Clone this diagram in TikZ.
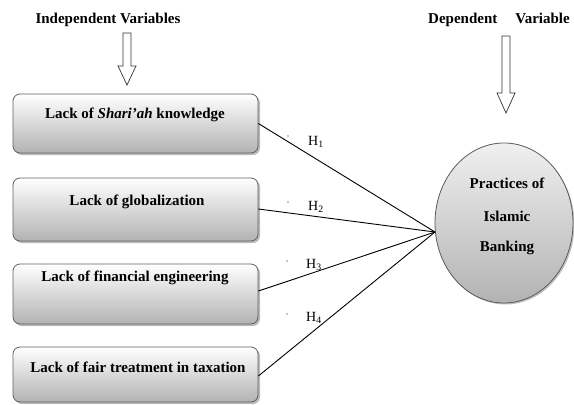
\documentclass[tikz,border=0pt]{standalone}
\usepackage{fontspec}
\setmainfont{Liberation Serif}
\usetikzlibrary{shadows,shapes.geometric}
\begin{document}
\begin{tikzpicture}[x=1pt,y=-1pt,
  varbox/.style={draw=gray!75!black, line width=0.8pt, rounded corners=7pt, minimum width=245pt,
     top color=white, bottom color=gray!60, inner sep=0pt,
     drop shadow={shadow xshift=2pt, shadow yshift=-2pt, opacity=0.45, fill=gray!80!black}},
  boxtxt/.style={font=\fontsize{15}{17}\selectfont\bfseries, inner sep=0pt},
  hdr/.style={font=\fontsize{15}{17}\selectfont\bfseries, inner sep=0pt},
  hyp/.style={font=\fontsize{14}{16}\selectfont, inner sep=0pt},
  link/.style={draw=black, line width=0.9pt},
  hollow/.style={draw=black!80, line width=0.7pt, fill=white},
  tinydot/.style={fill=black, circle, inner sep=0pt, minimum size=1.2pt}]
\useasboundingbox (0,0) rectangle (574,405);

% headers
\node[hdr] (indep) at (108,20) {Independent Variables};
\node[hdr] (dep) at (499,20) {Dependent\hspace{18pt}Variable};

% hollow arrows
\draw[hollow] (123,33) -- (131,33) -- (131,66) -- (136,66) -- (127,85) -- (118,66) -- (123,66) -- cycle;
\draw[hollow] (502,36) -- (510,36) -- (510,93) -- (515,93) -- (506,113) -- (497,93) -- (502,93) -- cycle;

% boxes
\node[varbox, minimum height=59pt] (b1) at (135.5,123.5) {};
\node[varbox, minimum height=63pt] (b2) at (135.5,209.5) {};
\node[varbox, minimum height=60pt] (b3) at (135.5,294) {};
\node[varbox, minimum height=55pt] (b4) at (135.5,374.5) {};

\node[boxtxt] (t1) at (135,115) {Lack of \textit{Shari'ah} knowledge};
\node[boxtxt] (t2) at (137,202) {Lack of globalization};
\node[boxtxt] (t3) at (135,278) {Lack of financial engineering};
\node[boxtxt] (t4) at (138,367) {Lack of fair treatment in taxation};

% dependent ellipse
\node[ellipse, draw=gray!70!black, line width=0.8pt, minimum width=138pt, minimum height=160pt,
      top color=gray!12, bottom color=gray!60, inner sep=0pt,
      drop shadow={shadow xshift=1.5pt, shadow yshift=-1.5pt, opacity=0.4, fill=gray!80!black}]
      (pib) at (504,223) {};
\node[boxtxt] (pib1) at (507,183) {Practices of};
\node[boxtxt] (pib2) at (507,216) {Islamic};
\node[boxtxt] (pib3) at (507,248) {Banking};

\coordinate (conv) at (435,232);

% links
\draw[link] (b1.east) -- (conv);
\draw[link] ([yshift=0.5pt]b2.east) -- (conv);
\draw[link] ([yshift=3pt]b3.east) -- (conv);
\draw[link] ([yshift=-1.5pt]b4.east) -- (conv);

% hypothesis labels
\node[hyp] (h1) at (316,142) {H\textsubscript{1}};
\node[hyp] (h2) at (316,207) {H\textsubscript{2}};
\node[hyp] (h3) at (314,265) {H\textsubscript{3}};
\node[hyp] (h4) at (314,318) {H\textsubscript{4}};

\node[tinydot] (d1) at (288,136) {};
\node[tinydot] (d2) at (288,202) {};
\node[tinydot] (d3) at (287,261) {};
\node[tinydot] (d4) at (287,314) {};
\end{tikzpicture}
\end{document}
